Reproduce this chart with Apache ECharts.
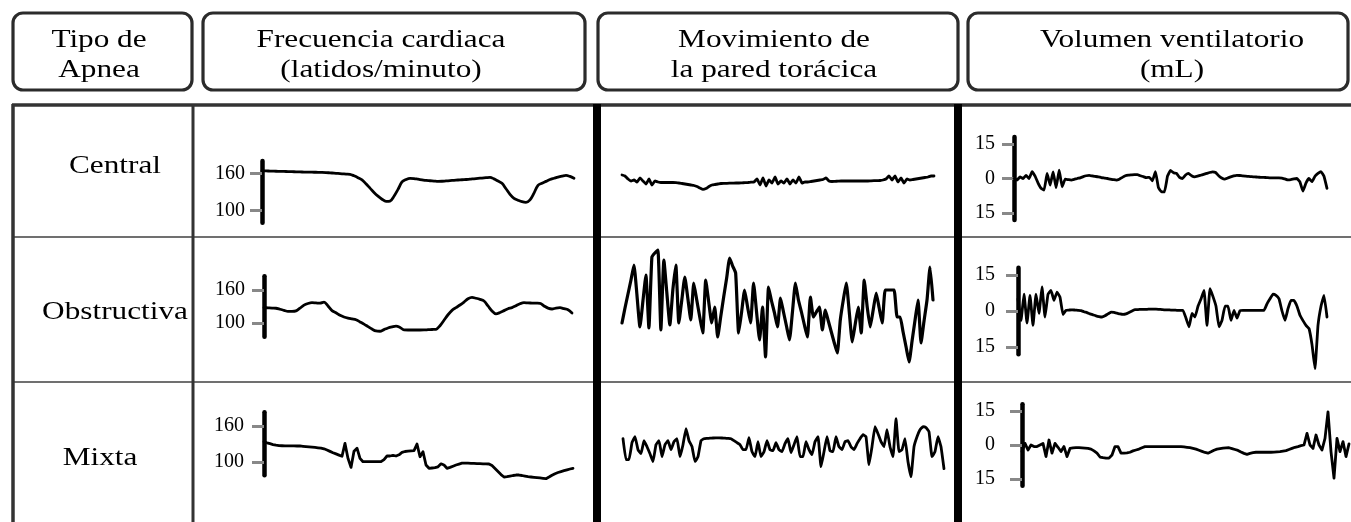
<!DOCTYPE html>
<html><head><meta charset="utf-8">
<script src="https://cdn.jsdelivr.net/npm/echarts@6/dist/echarts.min.js"></script>
<style>html,body{margin:0;padding:0;background:#fff}#c{width:1351px;height:522px}</style>
</head><body><div id="c"></div>
<script>
// ---------- DATA ----------
const headerLines = [["Tipo de","Apnea"],["Frecuencia cardiaca","(latidos/minuto)"],["Movimiento de","la pared torácica"],["Volumen ventilatorio","(mL)"]];
const apneaTypes = ["Central","Obstructiva","Mixta"];
const hrTicks = [100,160];
const volTicks = [-15,0,15];

const hrCentral = [164,164,163.6,163.5,163.3,163.1,163,162.8,162.6,162.4,162.2,162,161.9,161.8,161.7,161.6,161.3,160.8,160.3,159.8,159.3,158.8,158.4,156,153,149.5,143,136,129,123,118,114.5,115,123,134,146,150,152,151.5,150.5,149.5,148.5,148,147.5,147,147.2,147.7,148.2,148.7,149.2,149.6,150,150.5,151.2,151.8,152.4,153,153.5,151,147.5,143.8,135,126,119.5,116.5,114,113,117,128,140.5,144,147,150,152,154,155.5,156.7,155,152];
const hrObstructive = [128,127.5,127,126.8,125,123,121,121,122,127,132.5,135.5,137,136.5,136,138,131,122.4,118.5,114,111,109,107.5,106,102,98,93.5,89,85.5,85,88,91,93,94.5,92,87.5,87.3,87.3,87.3,87.3,87.4,87.8,88.2,88.5,95,105,115,123,128,132.7,138,144,146.5,145,143,140,131,122,116.5,119,122.5,126,128,131.5,135,137,136.5,136.3,136,135.8,131,127,125.5,127,127.8,126,124,118];
const hrMixed = [133.8,132,130.5,129,128,127.3,127.1,127,127,126.9,126.8,126.7,126.7,126.2,125.7,125.2,124.7,124.2,123.6,123.1,122,120,117.7,115.5,113.5,111.5,109.5,131,106,91,118,123,106,100.5,100.5,100.5,100.5,100.5,100.5,100.5,104,110,110,111,110,112,116,117.5,118,118.5,119,130,108.8,117,95,89.5,90,90.5,92,97,95,89.5,91,93,95,96.5,98,98,98,97.8,97.6,97.4,97.2,97,96.8,96.7,94,89,84,79,75,75.5,76.5,77.5,78.3,78.3,77.5,76.5,75.5,75,74.5,74,73.5,72.8,72.2,75,78,80.5,82.5,84,85.5,87,88.3,89.5];

const chestCentral = [6,5,2,0,1,-1,3,0,-3,2,-4,0,-1,-1.5,-1.5,-1.5,-1.5,-1.5,-1.7,-2,-2.5,-3,-3.5,-4,-4.5,-5.5,-7,-8.3,-7.5,-5.5,-4,-3.5,-3,-2.5,-2.3,-2.3,-2.2,-2.1,-2,-2,-1.8,-1.7,-1.5,-1.2,-1,2,-4,3,-5,1,-2,4,-3,0,-2,2,-3,1,-2,4,-2,-1,-1,-0.5,0,0.5,1,1.5,3,0,-0.5,-0.3,-0.2,0,0,0,0,0,0,0,0,0,0,0.2,0.3,0.3,0.5,1,2,5,1,5,-1,3,-2,2,1,1.5,2,2.5,3,3.5,4,5,5];
const chestObstructive = [-23,-8,6,20,35,5,-27,-1,25,-28,43,47,50,-30,40,7,-25,10,35,-23,0,23,2,-20,17,0,-17,-33,20,-2,-23,-7,-37,-17,3,22,42,34,27,-33,-12,10,-7,-23,17,-12,-40,-7,-57,13,-1,-13,-27,2,-12,-26,-40,-12,17,0,-12,-25,-37,3,-17,-12,-7,-30,-10,-21,-32,-43,-53,-20,0,17,-12,-42,-24,-7,-33,20,-7,-27,-10,7,-8,-23,10,10,10,10,-17,-17,-32,-47,-62,-41,-20,0,-43,-21,0,33,0];
const chestMixed = [8,-13,-13,4,10,-3,-7,6,0,-7,-15,2,6,-10,2,6,-3,5,8,-10,2,18,6,0,-15,-10,6,8,8.3,8.5,8.7,8.8,8.8,8.7,8.5,8.3,8,6,4,2,-3,-3,9,-5,-10,5,-10,-5,6,-3,-4,4,-3,-5,3,8,-6,2,10,-10,-10,5,-3,-8,5,10,-20,-5,10,-4,-5,10,0,-3,5,6,0,-3,3,8,12,10,-18,0,20,13,5,0,17,0,-10,28,-5,-3,8,-15,-30,0,10,17,20,19,15,-10,-5,10,0,-22];

const volCentral = [0,-0.7,0.7,0,1.4,0,3,1,-2,-4.3,-5,2.2,-2.9,2.9,-4,3.6,-3.6,-0.3,-0.5,-0.7,-0.4,0,0.3,0.8,1.2,1.4,1.1,0.9,0.7,0.4,0.2,0,-0.3,-0.5,-0.7,-0.3,0.5,1.2,1.5,1.6,1.7,1.7,1.2,0.8,0.4,0.5,-1,3,-4,-5.8,-5.8,1,3.5,2.5,2.2,0.5,0,1.5,2.2,1.2,0.7,1,1.4,1.8,2.2,2.6,2.9,2.6,1.2,0.2,-0.3,0.2,0.7,1.1,1.4,1.3,1.1,1,0.9,0.8,0.7,0.6,0.5,0.45,0.4,0.3,0.3,0.3,0.3,0.2,-0.2,-0.6,-0.5,-0.2,0,-1.5,-5.5,-2,0,-1.4,1,2.2,3,1,-4.3];
const volObstructive = [5,-4,7,-5,6.5,-6,7,-1,10,-2.5,7,8.6,4.4,7.9,5.8,-1.5,0.3,0.4,0.5,0.4,0.3,0.2,-0.3,-0.7,-1.2,-1.6,-2,-2.3,-2.5,-2,-1.2,-0.5,-0.6,-0.9,-1.2,-1.4,-1.2,-0.6,0,0.6,0.6,0.7,0.7,0.7,0.8,0.8,0.8,0.7,0.6,0.5,0.5,0.4,0.4,0.3,0.3,0.3,-3,-6.6,-1,-2.5,2,5,8.6,-6,9.3,6,2,-6.6,-3.9,2,2,-3.9,0.3,-3,0.2,0.3,0.3,0.3,0.3,0.3,0.3,0.3,0.3,3,5.1,7,6.5,5.1,0,-3.9,1,4.4,4.4,2,-1.8,-4,-6,-7.3,-14,-24,-6,2,6.5,-2.5];
const volMixed = [-2.9,0.7,-2.2,0,-0.7,-0.7,0,0.7,-5.1,2.2,-3.6,0.7,-1,-2.9,-0.7,-5.1,-1.5,-1.3,-1.2,-1.2,-1.3,-1.4,-1.5,-1.8,-2.6,-3.6,-5.3,-5.6,-5.8,-5.8,-4.4,-0.7,-0.7,-3.6,-3.6,-3.5,-3.2,-2.6,-2.2,-1.8,-1.2,-0.7,-0.7,-0.7,-0.7,-0.7,-0.7,-0.7,-0.7,-0.7,-0.7,-0.7,-0.7,-0.7,-0.8,-1,-1.2,-1.5,-1.8,-2.3,-2.8,-3.3,-3.6,-3,-2.3,-1.8,-1.6,-1.4,-1.3,-1.2,-1.6,-2,-2.4,-3.1,-3.7,-4.1,-3.7,-3.4,-3.2,-3.2,-3.2,-3.2,-3.2,-3.2,-3.1,-3,-2.9,-2.7,-2.5,-2,-1.5,-1,-0.7,-0.3,0,5.1,0,-1.5,4.4,0,-2.2,2.9,14.6,-2.9,-14.6,2.9,-2.9,1.5,-5.1,0.5];

// ---------- LAYOUT / STYLE ----------
const FONT = '"Liberation Serif", "Times New Roman", serif';
const panels = [
  // heart rate
  {data: hrCentral, kind:'hr', x0:262, x1:574, top:161, h:61.7, min:80, max:180, margin:17, smooth:0.35, lw:2.8},
  {data: hrObstructive, kind:'hr', x0:264, x1:572, top:276.25, h:60.5, min:75, max:185, margin:19, smooth:0.3, lw:2.8},
  {data: hrMixed, kind:'hr', x0:264, x1:573, top:412.2, h:63, min:78, max:183, margin:20, smooth:0, lw:2.8},
  // chest wall
  {data: chestCentral, kind:'chest', x0:622, x1:934, top:151, h:60, min:-30, max:30, smooth:0.15, lw:2.8},
  {data: chestObstructive, kind:'chest', x0:622, x1:933, top:230, h:140, min:-70, max:70, smooth:0.15, lw:3.2},
  {data: chestMixed, kind:'chest', x0:623, x1:944, top:406.7, h:80, min:-40, max:40, smooth:0.1, lw:2.8},
  // volume
  {data: volCentral, kind:'vol', x0:1014, x1:1327, top:137.1, h:82.8, min:-18, max:18, margin:19, smooth:0.1, lw:2.8},
  {data: volObstructive, kind:'vol', x0:1018, x1:1327, top:267.8, h:86.4, min:-18, max:18, margin:23, smooth:0.1, lw:2.8},
  {data: volMixed, kind:'vol', x0:1022, x1:1349, top:404.2, h:81.6, min:-18, max:18, margin:27, smooth:0, lw:2.8}
];

const grid = [], xAxis = [], yAxis = [], series = [];
panels.forEach((p, i) => {
  grid.push({left:p.x0, top:p.top, width:p.x1 - p.x0, height:p.h, containLabel:false, outerBoundsMode:'none'});
  xAxis.push({type:'category', gridIndex:i, show:false, boundaryGap:false, data:p.data.map((_, k) => k)});
  const ticks = p.kind === 'hr' ? hrTicks : volTicks;
  if (p.kind === 'chest') {
    yAxis.push({type:'value', gridIndex:i, show:false, min:p.min, max:p.max});
  } else {
    yAxis.push({
      type:'value', gridIndex:i, min:p.min, max:p.max,
      splitLine:{show:false},
      axisLine:{show:true, lineStyle:{color:'#000', width:4.5}},
      axisTick:{show:true, customValues:ticks, length:12, lineStyle:{color:'#888', width:3}},
      axisLabel:{show:true, customValues:ticks, margin:p.margin, color:'#000', fontFamily:FONT, fontSize:20,
        formatter: v => String(Math.abs(v))}
    });
  }
  series.push({
    type:'line', xAxisIndex:i, yAxisIndex:i, data:p.data, symbol:'none', showSymbol:false,
    smooth:p.smooth, clip:false, silent:true, animation:false,
    lineStyle:{color:'#000', width:p.lw, cap:'round', join:'round'}
  });
});

// table frame + header boxes + texts
const graphic = [];
const boxes = [[13,192],[203,585],[598,958],[968,1348]];
const headerCenters = [99,381,774,1172];
boxes.forEach((b, i) => {
  graphic.push({type:'rect', z:1, shape:{x:b[0], y:13, width:b[1]-b[0], height:77, r:10},
    style:{fill:'#fff', stroke:'#2b2b2b', lineWidth:3.2}});
  headerLines[i].forEach((t, k) => {
    graphic.push({type:'text', z:2, x:headerCenters[i], y:40 + k*30, scaleX:1.25,
      style:{text:t, fill:'#000', font:'25px ' + FONT, align:'center', verticalAlign:'middle',
        textAlign:'center', textVerticalAlign:'middle'}});
  });
});
const hLines = [[12,105,1351,105,'#333',3.5],[13,237,1351,237,'#707070',2],[13,382,1351,382,'#707070',2]];
const vLines = [[13,104,13,522,'#333',3.5],[193,104,193,522,'#333',3],[597,104,597,522,'#000',8],[958,104,958,522,'#000',8]];
hLines.concat(vLines).forEach(l => graphic.push({type:'line', z:1,
  shape:{x1:l[0], y1:l[1], x2:l[2], y2:l[3]}, style:{stroke:l[4], lineWidth:l[5]}}));
const rowLabelPos = [[115,166],[115,312],[100,458]];
apneaTypes.forEach((t, i) => graphic.push({type:'text', z:2, x:rowLabelPos[i][0], y:rowLabelPos[i][1], scaleX:1.25,
  style:{text:t, fill:'#000', font:'25px ' + FONT, align:'center', verticalAlign:'middle',
    textAlign:'center', textVerticalAlign:'middle'}}));

const chart = echarts.init(document.getElementById('c'), null, {renderer:'canvas'});
chart.setOption({animation:false, backgroundColor:'#fff', grid, xAxis, yAxis, series, graphic});
</script></body></html>
